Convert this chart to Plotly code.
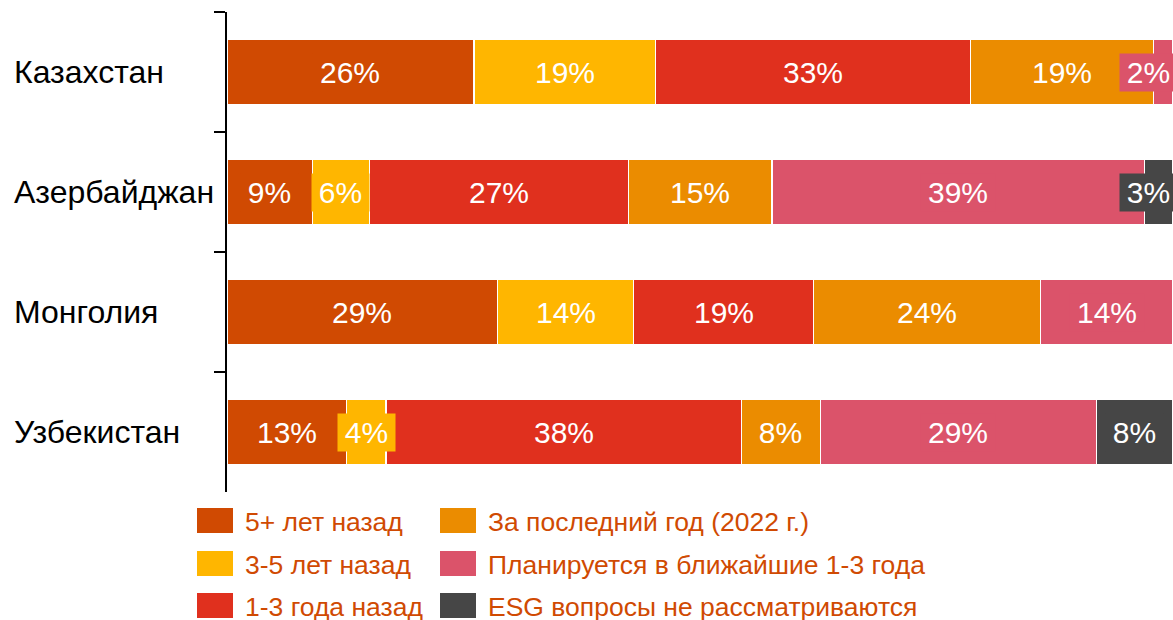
import plotly.graph_objects as go

countries = ["Казахстан", "Азербайджан", "Монголия", "Узбекистан"]
series_names = [
    "5+ лет назад",
    "3-5 лет назад",
    "1-3 года назад",
    "За последний год (2022 г.)",
    "Планируется в ближайшие 1-3 года",
    "ESG вопросы не рассматриваются",
]
colors = ["#d04a02", "#ffb600", "#e0301e", "#eb8c00", "#db536a", "#464646"]

# values per series, order matches countries
v_5plus = [26.1, 9.0, 28.6, 12.6]
v_3_5 = [19.2, 6.1, 14.4, 4.2]
v_1_3 = [33.3, 27.3, 19.0, 37.6]
v_last = [19.3, 15.2, 24.0, 8.3]
v_plan = [2.1, 39.4, 14.0, 29.2]
v_none = [0.0, 3.0, 0.0, 8.1]
series_values = [v_5plus, v_3_5, v_1_3, v_last, v_plan, v_none]

W, H = 1173, 620
ML, MR, MT, MB = 227, 0, 12, 128
PW, PH = W - ML - MR, H - MT - MB
FONT = "Liberation Sans, Arial, sans-serif"

fig = go.Figure()
for name, vals, col in zip(series_names, series_values, colors):
    fig.add_trace(go.Bar(
        y=countries, x=vals, name=name, orientation="h",
        marker=dict(color=col, line=dict(color="white", width=1.2)),
        showlegend=False, hoverinfo="x+name",
    ))

annotations = []
# bar labels
for i, c in enumerate(countries):
    cum = 0.0
    for vals, col in zip(series_values, colors):
        v = vals[i]
        if v > 0:
            label = f"{round(v)}%"
            center = min(cum + v / 2, 97.4)
            tw = 30 * (0.556 * (len(label) - 1) + 0.889)
            annotations.append(dict(
                x=center, y=c, xref="x", yref="y", text=label,
                showarrow=False, font=dict(family=FONT, size=30, color="white"),
                bgcolor=col, borderpad=2, width=round(tw + 10),
                xanchor="center", yanchor="middle", align="center",
            ))
        cum += v

# category labels (left aligned)
for c in countries:
    annotations.append(dict(
        x=(12 - ML) / PW, y=c, xref="paper", yref="y", text=c, showarrow=False,
        xanchor="left", yanchor="middle", font=dict(family=FONT, size=32, color="#000000"),
    ))

# manual legend
shapes = []
def px_x(px):
    return (px - ML) / PW
def px_y(py):
    return (MT + PH - py) / PH

col_x = [197, 440]
row_y = [520.5, 563.5, 605.5]
for k, (name, col) in enumerate(zip(series_names, colors)):
    cx = col_x[k // 3]
    cy = row_y[k % 3]
    shapes.append(dict(
        type="rect", xref="paper", yref="paper",
        x0=px_x(cx), x1=px_x(cx + 36), y0=px_y(cy + 12.5), y1=px_y(cy - 12.5),
        fillcolor=col, line=dict(width=0),
    ))
    annotations.append(dict(
        x=px_x(cx + 46), y=px_y(cy + 1), xref="paper", yref="paper", text=name,
        showarrow=False, xanchor="left", yanchor="middle",
        font=dict(family=FONT, size=26.5, color="#d04a02"),
    ))

fig.update_layout(
    barmode="stack",
    width=W, height=H,
    margin=dict(l=ML, r=MR, t=MT, b=MB, pad=0),
    paper_bgcolor="white", plot_bgcolor="white",
    bargap=0.46,
    xaxis=dict(range=[0, 100], visible=False, fixedrange=True),
    yaxis=dict(
        categoryorder="array", categoryarray=countries, autorange="reversed",
        showticklabels=False, showline=True, linecolor="black", linewidth=2,
        ticks="outside", tickson="boundaries", ticklen=11, tickwidth=2, tickcolor="black",
        showgrid=False, zeroline=False, fixedrange=True,
    ),
    annotations=annotations,
    shapes=shapes,
    showlegend=False,
)

fig.write_html(
    "out.html",
    config={"displayModeBar": False},
    post_script="document.body.style.margin='0';document.body.style.overflow='hidden';",
)
